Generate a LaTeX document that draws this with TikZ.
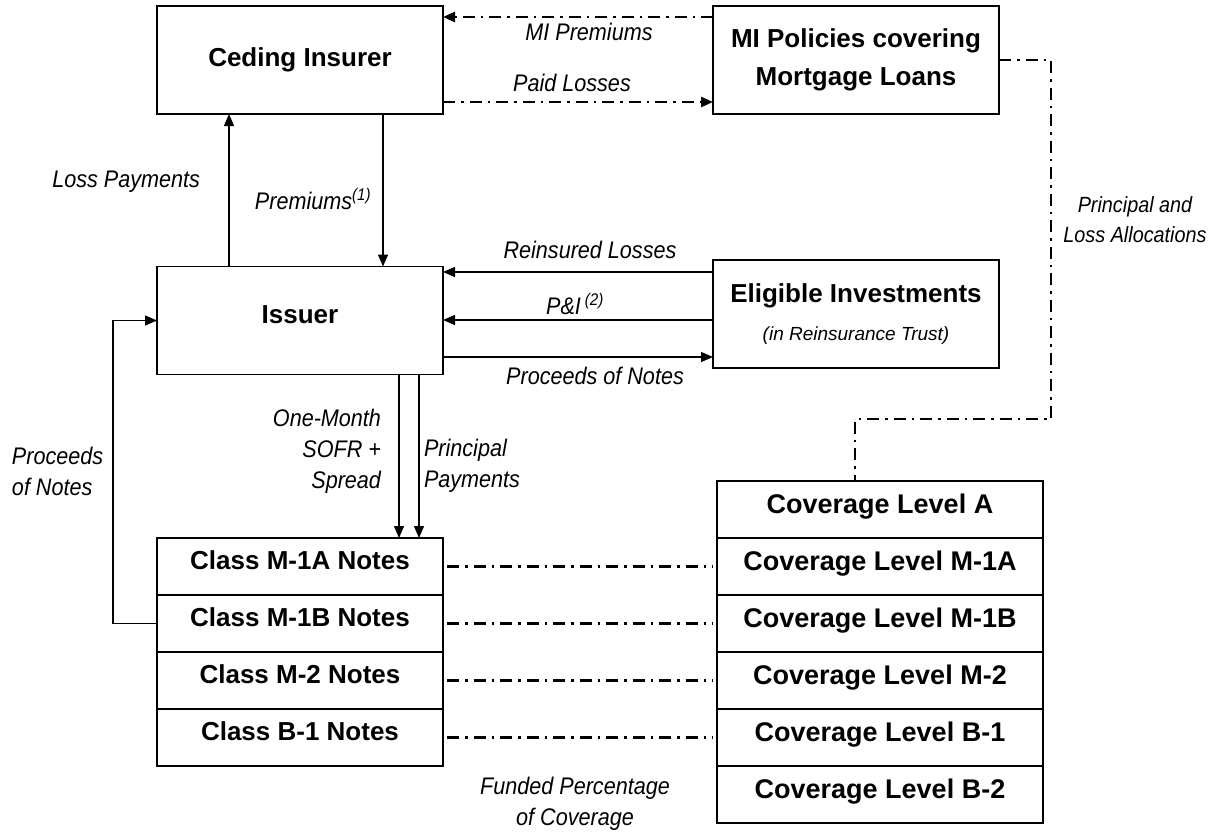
\documentclass[tikz,border=0pt]{standalone}
\usepackage{fontspec}
\setmainfont{Liberation Sans}
\newfontfamily\narrowsans[FakeStretch=0.9]{Liberation Sans}
\usetikzlibrary{
  arrows.meta,     % triangle tips on the flows
  positioning      % stacking the tranche rows below each other
}
\tikzset{
    x=1pt, y=1pt,
    node distance=0pt,
    every node/.style = {
        outer sep=0pt,
        inner sep=2pt
    },
    box/.style = {
        rectangle,
        draw,
        line width=1.3pt,
        minimum width=286pt,
        minimum height=108pt,
        align=center,
        font=\fontsize{26}{38}\selectfont\bfseries
    },
    tier/.style = {box, minimum height=57pt, text depth=12pt},
    cov/.style = {tier, minimum width=326pt, font=\fontsize{27}{38}\selectfont\bfseries},
    note/.style = {font=\narrowsans\itshape\fontsize{24}{31}\selectfont, align=center},
    flow/.style = {-{Triangle[length=12pt,width=10pt]}, line width=1.3pt},
    tie/.style = {line width=2.6pt, dash pattern=on 12pt off 6pt on 2.5pt off 6pt}
}

\begin{document}
\begin{tikzpicture}
  \useasboundingbox (0,0) rectangle (1224,-835);

  %% parties
  \node [box] (ceding) at (300,-60) {\raisebox{3pt}{Ceding Insurer}};
  \node [box] (mipol) at (856,-60) {MI Policies covering\\Mortgage Loans};
  \node [box] (issuer) at (300,-320.5) {\raisebox{12pt}{Issuer}};
  \node [box] (elig) at (856,-314) {Eligible Investments\\{\fontsize{19}{24}\selectfont\mdseries\itshape (in Reinsurance Trust)}};

  %% notes
  \node [tier] (m1a) at (300,-566.5) {Class M-1A Notes};
  \node [tier, below=of m1a] (m1b) {Class M-1B Notes};
  \node [tier, below=of m1b] (m2) {Class M-2 Notes};
  \node [tier, below=of m2] (b1) {Class B-1 Notes};

  %% coverage levels
  \node [cov] (cova) at (880,-509.5) {Coverage Level A};
  \node [cov, below=of cova] (covm1a) {Coverage Level M-1A};
  \node [cov, below=of covm1a] (covm1b) {Coverage Level M-1B};
  \node [cov, below=of covm1b] (covm2) {Coverage Level M-2};
  \node [cov, below=of covm2] (covb1) {Coverage Level B-1};
  \node [cov, below=of covb1] (covb2) {Coverage Level B-2};

  %% ceding insurer <-> MI policies
  \draw [flow, tie] ([yshift=-11pt]mipol.north west) -- ([yshift=-11pt]ceding.north east);
  \draw [flow, tie] ([yshift=12pt]ceding.south east) -- ([yshift=12pt]mipol.south west);
  \node [note] (lmiprem) at (589,-32) {MI Premiums};
  \node [note] (lpaid) at (572,-83) {Paid Losses};

  %% ceding insurer <-> issuer
  \draw [flow] ([xshift=72pt]issuer.north west) -- ([xshift=72pt]ceding.south west);
  \draw [flow] ([xshift=-60pt]ceding.south east) -- ([xshift=-60pt]issuer.north east);
  \node [note, anchor=east] (lloss) at (202,-182) {Loss Payments};
  \node [note] (lprem) at (313,-199) {Premiums\textsuperscript{(1)}};

  %% issuer <-> eligible investments
  \draw [flow] ([yshift=-12pt]elig.north west) -- ([yshift=-12pt]elig.north west -| issuer.east);
  \draw [flow] ([yshift=-6pt]elig.west) -- ([yshift=-6pt]elig.west -| issuer.east);
  \draw [flow] ([yshift=11pt]elig.south west -| issuer.east) -- ([yshift=11pt]elig.south west);
  \node [note] (lreins) at (590,-250) {Reinsured Losses};
  \node [note] (lpi) at (575,-304) {P\&I\,\textsuperscript{(2)}};
  \node [note] (lproc) at (595,-376) {Proceeds of Notes};

  %% issuer <-> notes
  \draw [flow] ([xshift=-44pt]issuer.south east) -- ([xshift=-44pt]m1a.north east);
  \draw [flow] ([xshift=-24pt]issuer.south east) -- ([xshift=-24pt]m1a.north east);
  \draw [flow] (m1b.west) -- ++(-44pt,0) |- (issuer.west);
  \node [note, anchor=east, align=right] (lsofr) at (383,-451) {One-Month\\SOFR +\\Spread};
  \node [note, anchor=west, align=left] (lprin) at (422,-466) {Principal\\Payments};
  \node [note, anchor=west, align=left] (lprocl) at (10,-471) {Proceeds\\of Notes};

  %% allocations
  \coordinate (turn) at (1051,-419);
  \draw [tie] (mipol.east) -| (turn) -| ([xshift=-25pt]cova.north);
  \node [note, font=\narrowsans\itshape\fontsize{22}{30}\selectfont] (lalloc) at (1135,-220) {Principal and\\Loss Allocations};

  \foreach \cls/\lvl in {m1a/covm1a, m1b/covm1b, m2/covm2, b1/covb1}
    \draw [tie, shorten <=4pt, shorten >=4pt] (\cls.east) -- (\cls.east -| \lvl.west);
  \node [note] (lfund) at (575,-804) {Funded Percentage\\of Coverage};

\end{tikzpicture}
\end{document}
